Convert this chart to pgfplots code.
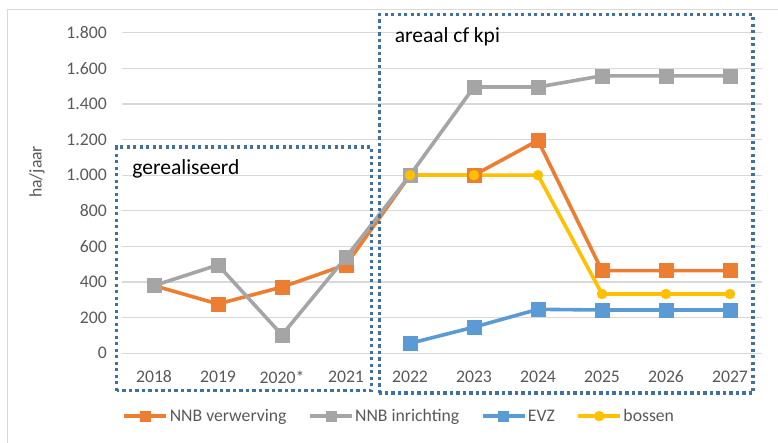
\documentclass[border=0pt]{standalone}
\usepackage{pgfplots}
\pgfplotsset{compat=1.18}
\usepackage{fontspec}
\setmainfont{Carlito}

\definecolor{cOrange}{HTML}{ED7D31}
\definecolor{cGray}{HTML}{A5A5A5}
\definecolor{cBlue}{HTML}{5B9BD5}
\definecolor{cYellow}{HTML}{FFC000}
\definecolor{cBox}{HTML}{41719C}
\definecolor{cGrid}{HTML}{D9D9D9}
\definecolor{cTick}{HTML}{595959}

\begin{document}
\begin{tikzpicture}
\useasboundingbox (-122pt,-88.7pt) rectangle (656pt,353.3pt);
% chart frame (partly cut off, as in the reference)
\draw[cGrid, line width=1pt] (-114pt,343.3pt) rectangle (668pt,-96.7pt);
\begin{axis}[
    at={(0pt,0pt)}, anchor=south west,
    scale only axis, width=640pt, height=320.6pt,
    clip=false,
    xmin=-0.5, xmax=9.5, ymin=0, ymax=1800,
    xtick={0,...,9},
    xticklabels={2018,2019,2020*,2021,2022,2023,2024,2025,2026,2027},
    ytick={0,200,...,1800},
    yticklabels={0,200,400,600,800,1.000,1.200,1.400,1.600,1.800},
    /pgf/number format/assume math mode=true,
    axis line style={draw=none},
    major tick length=0pt,
    ymajorgrids,
    grid style={cGrid, line width=1.2pt},
    tick label style={font=\fontsize{17.7}{20}\selectfont, text=cTick},
    yticklabel style={anchor=east, inner sep=0pt, xshift=-15pt},
    xticklabel style={anchor=center, inner sep=0pt, yshift=-23.7pt},
    ylabel={ha/jaar},
    ylabel style={at={(axis description cs:-0.133,0.566)}, anchor=center,
        font=\fontsize{17.7}{20}\selectfont, text=cTick},
    legend style={at={(axis description cs:0.433,-0.196)}, anchor=center,
        draw=none, fill=none, font=\fontsize{17.7}{20}\selectfont, text=cTick,
        nodes={inner sep=1.5pt},
        /tikz/every even column/.append style={column sep=20pt}},
    legend columns=4,
    legend cell align=left,
    legend image code/.code={%
        \draw[mark repeat=2,mark phase=2, mark size=5pt] plot coordinates {(0pt,0pt) (21pt,0pt) (42pt,0pt)};},
]
\addplot[cOrange, line width=3.6pt, mark=square*, mark size=7pt,
    mark options={solid, fill=cOrange, draw=cOrange, line width=0.4pt}]
    coordinates {(0,380) (1,277) (2,372) (3,497) (4,1000) (5,1000) (6,1195) (7,464) (8,464) (9,464)};
\addlegendentry{NNB verwerving}
\addplot[cGray, line width=3.6pt, mark=square*, mark size=7pt,
    mark options={solid, fill=cGray, draw=cGray, line width=0.4pt}]
    coordinates {(0,380) (1,496) (2,103) (3,539) (4,1000) (5,1495) (6,1495) (7,1558) (8,1558) (9,1558)};
\addlegendentry{NNB inrichting}
\addplot[cBlue, line width=3.6pt, mark=square*, mark size=7pt,
    mark options={solid, fill=cBlue, draw=cBlue, line width=0.4pt}]
    coordinates {(4,56) (5,147) (6,247) (7,243) (8,243) (9,243)};
\addlegendentry{EVZ}
\addplot[cYellow, line width=3.6pt, mark=*, mark size=5pt,
    mark options={solid, fill=cYellow, draw=cYellow, line width=0.4pt}]
    coordinates {(4,1000) (5,1000) (6,1000) (7,333) (8,333) (9,333)};
\addlegendentry{bossen}

% dotted boxes and their captions
\draw[cBox, line width=3.2pt, dash pattern=on 3.2pt off 3.3pt]
    (axis cs:-0.58,-210) rectangle (axis cs:3.40,1158);
\draw[cBox, line width=3.2pt, dash pattern=on 3.2pt off 3.3pt]
    (axis cs:3.52,-223) rectangle (axis cs:9.36,1900);
\node[anchor=west, inner sep=0pt, font=\fontsize{21.5}{24}\selectfont]
    at (axis cs:-0.34,1035) {gerealiseerd};
\node[anchor=west, inner sep=0pt, font=\fontsize{21.5}{24}\selectfont]
    at (axis cs:3.76,1776) {areaal cf kpi};
\end{axis}
\end{tikzpicture}
\end{document}
